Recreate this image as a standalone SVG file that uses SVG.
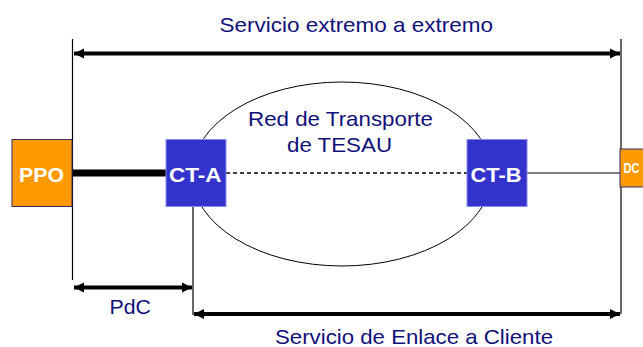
<svg xmlns="http://www.w3.org/2000/svg" width="643" height="347" viewBox="0 0 643 347">
<defs>
<style>
.lbl{font-family:"Liberation Sans",Arial,sans-serif;font-size:21px;fill:#10107a}
.box{font-family:"Liberation Sans",Arial,sans-serif;font-size:21px;font-weight:bold;fill:#ffffff}
.dim{stroke:#000;stroke-width:4;fill:none}
.ext{stroke:#000;stroke-width:1.2;fill:none}
</style>
<marker id="ah" viewBox="0 0 10 10" refX="10" refY="5" markerWidth="2.6" markerHeight="2.6" orient="auto-start-reverse" markerUnits="strokeWidth">
<path d="M0,0 L10,5 L0,10 Z" fill="#000"/>
</marker>
</defs>
<rect width="643" height="347" fill="#fff"/>
<g id="network">
<ellipse cx="342" cy="174" rx="150" ry="92" fill="none" stroke="#000" stroke-width="1"/>
<text class="lbl" x="248" y="126" textLength="185" lengthAdjust="spacingAndGlyphs">Red de Transporte</text>
<text class="lbl" x="287" y="152" textLength="105" lengthAdjust="spacingAndGlyphs">de TESAU</text>
</g>
<g id="connectors">
<line class="ext" x1="72.5" y1="39" x2="72.5" y2="280"/>
<line class="ext" x1="621" y1="39" x2="621" y2="314"/>
<line class="ext" x1="193" y1="206" x2="193" y2="315"/>
<line x1="72" y1="173" x2="166" y2="173" stroke="#000" stroke-width="7"/>
<line x1="226" y1="173" x2="467" y2="173" stroke="#000" stroke-width="1.5" stroke-dasharray="4,3"/>
<line x1="527" y1="173" x2="620" y2="173" stroke="#555" stroke-width="1.5"/>
<line class="dim" x1="74" y1="53.5" x2="620" y2="53.5" marker-start="url(#ah)" marker-end="url(#ah)"/>
<line class="dim" x1="74" y1="287.5" x2="192" y2="287.5" marker-start="url(#ah)" marker-end="url(#ah)"/>
<line class="dim" x1="194" y1="314" x2="620" y2="314" marker-start="url(#ah)" marker-end="url(#ah)"/>
</g>
<g id="labels">
<text class="lbl" x="219.5" y="32" textLength="273.5" lengthAdjust="spacingAndGlyphs">Servicio extremo a extremo</text>
<text class="lbl" x="109.5" y="313.5" textLength="41.5" lengthAdjust="spacingAndGlyphs">PdC</text>
<text class="lbl" x="275" y="344" textLength="278" lengthAdjust="spacingAndGlyphs">Servicio de Enlace a Cliente</text>
</g>
<g id="PPO">
<rect x="12" y="139.5" width="60" height="67" fill="#ff9900" stroke="#3a2a6a" stroke-width="1"/>
<text class="box" x="19" y="181.5" textLength="45" lengthAdjust="spacingAndGlyphs">PPO</text>
</g>
<g id="CT-A">
<rect x="166" y="139.5" width="60" height="67" fill="#3333cc" stroke="#8888ee" stroke-width="1"/>
<text class="box" x="169" y="181.5" textLength="52.5" lengthAdjust="spacingAndGlyphs">CT-A</text>
</g>
<g id="CT-B">
<rect x="467" y="139.5" width="60" height="67" fill="#3333cc" stroke="#8888ee" stroke-width="1"/>
<text class="box" x="470.5" y="181.5" textLength="51" lengthAdjust="spacingAndGlyphs">CT-B</text>
</g>
<g id="DC">
<rect x="620" y="149" width="40" height="38" fill="#ff9900" stroke="#3a2a6a" stroke-width="1"/>
<text class="box" x="623.5" y="173" style="font-size:14px" textLength="16" lengthAdjust="spacingAndGlyphs">DC</text>
</g>
</svg>
